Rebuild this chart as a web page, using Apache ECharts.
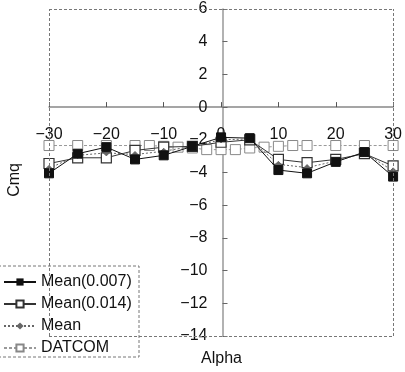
<!DOCTYPE html>
<html>
<head>
<meta charset="utf-8">
<script src="https://cdn.jsdelivr.net/npm/echarts@6/dist/echarts.min.js"></script>
<style>
  html, body { margin: 0; padding: 0; background: #fff; }
  #chart { width: 405px; height: 372px; }
</style>
</head>
<body>
<div id="chart"></div>
<script>
// Pitch damping coefficient Cmq versus angle of attack
const alphaMeasured = [-30, -25, -20, -15, -10, -5, 0, 5, 10, 15, 20, 25, 30];
const mean007 = [-4.05, -2.85, -2.45, -3.2, -2.95, -2.4, -1.85, -1.9, -3.85, -4.05, -3.35, -2.75, -4.25];
const mean014 = [-3.45, -3.1, -3.1, -2.65, -2.45, -2.4, -2.15, -2.0, -3.2, -3.4, -3.2, -2.85, -3.6];
const meanAll = [-3.75, -2.95, -2.8, -2.9, -2.7, -2.4, -2.0, -1.95, -3.5, -3.7, -3.3, -2.8, -3.9];

const alphaDatcom = [-30, -25, -20, -15, -12.5, -10, -7.5, -5, -2.5, 0, 2.5, 5, 7.5, 10, 12.5, 15, 20, 25, 30];
const datcom = [-2.35, -2.35, -2.35, -2.35, -2.35, -2.4, -2.45, -2.5, -2.6, -2.6, -2.6, -2.5, -2.45, -2.4, -2.35, -2.35, -2.35, -2.35, -2.35];

const seriesNames = ['Mean(0.007)', 'Mean(0.014)', 'Mean', 'DATCOM'];
const xRange = [-30, 30];
const yRange = [-14, 6];

const W = 405, H = 372;
const grid = { left: 49, right: 9, top: 9, bottom: 36 };
const gridW = W - grid.left - grid.right;
const gridH = H - grid.top - grid.bottom;
// Shift both axes so they cross at the origin, labels included
const yAxisOffset = -gridW * (0 - xRange[0]) / (xRange[1] - xRange[0]);
const xAxisOffset = -gridH * (0 - yRange[0]) / (yRange[1] - yRange[0]);

const pairs = (xs, ys) => xs.map((x, i) => [x, ys[i]]);
const minus = v => String(v).replace('-', '\u2212');
const font = 'Liberation Sans, Arial, sans-serif';
const frameStyle = { color: '#777', type: [3, 2], width: 1 };

const chart = echarts.init(document.getElementById('chart'), null, { renderer: 'canvas' });

chart.setOption({
  animation: false,
  backgroundColor: '#fff',
  textStyle: { fontFamily: font },
  grid: Object.assign({ containLabel: false }, grid),
  xAxis: {
    type: 'value', min: xRange[0], max: xRange[1], interval: 10,
    position: 'bottom', offset: xAxisOffset,
    axisLine: { onZero: false, lineStyle: { color: '#888', width: 1.5 } },
    axisTick: { inside: true, length: 5, lineStyle: { color: '#555' } },
    axisLabel: { color: '#111', fontSize: 16, margin: 19, showMinLabel: true, showMaxLabel: true, formatter: minus },
    splitLine: { show: false }
  },
  yAxis: {
    type: 'value', min: yRange[0], max: yRange[1], interval: 2,
    position: 'left', offset: yAxisOffset,
    axisLine: { onZero: false, lineStyle: { color: '#999', width: 1.5 } },
    axisTick: { inside: true, length: 5, lineStyle: { color: '#666' } },
    axisLabel: { color: '#111', fontSize: 16, margin: 15, showMinLabel: true, showMaxLabel: true, formatter: minus },
    splitLine: { show: false }
  },
  legend: {
    data: seriesNames,
    orient: 'vertical',
    left: 3, top: 274,
    padding: 0,
    itemWidth: 32, itemHeight: 9, itemGap: 6,
    textStyle: { fontSize: 16, color: '#111', fontFamily: font },
    z: 6
  },
  graphic: [
    {
      type: 'rect', z: 5,
      shape: { x: -2, y: 266, width: 141, height: 91 },
      style: { fill: '#fff', stroke: '#777', lineWidth: 1, lineDash: [3, 2] }
    },
    {
      type: 'text', left: 7, top: 163, rotation: Math.PI / 2,
      style: { text: 'Cmq', font: '16px ' + font, fill: '#111' }
    },
    {
      type: 'text', left: 201, top: 351,
      style: { text: 'Alpha', font: '16px ' + font, fill: '#111' }
    }
  ],
  series: [
    {
      name: 'DATCOM', type: 'line', data: pairs(alphaDatcom, datcom),
      symbol: 'rect', symbolSize: 10, z: 2,
      lineStyle: { color: '#999', width: 1, type: [3, 2] },
      itemStyle: { color: '#fff', borderColor: '#888', borderWidth: 1 },
      markLine: {
        silent: true, symbol: 'none', label: { show: false },
        lineStyle: frameStyle,
        data: [
          { xAxis: xRange[0] }, { xAxis: xRange[1] },
          { yAxis: yRange[0] }, { yAxis: yRange[1] }
        ]
      }
    },
    {
      name: 'Mean(0.014)', type: 'line', data: pairs(alphaMeasured, mean014),
      symbol: 'rect', symbolSize: 10, z: 3,
      lineStyle: { color: '#333', width: 1 },
      itemStyle: { color: '#fff', borderColor: '#333', borderWidth: 1.2 }
    },
    {
      name: 'Mean', type: 'line', data: pairs(alphaMeasured, meanAll),
      symbol: 'diamond', symbolSize: 6, z: 3,
      lineStyle: { color: '#666', width: 1, type: [2, 2] },
      itemStyle: { color: '#666', borderColor: '#666' }
    },
    {
      name: 'Mean(0.007)', type: 'line', data: pairs(alphaMeasured, mean007),
      symbol: 'rect', symbolSize: 9, z: 4,
      lineStyle: { color: '#111', width: 1 },
      itemStyle: { color: '#111', borderColor: '#111' }
    }
  ]
});
</script>
</body>
</html>
